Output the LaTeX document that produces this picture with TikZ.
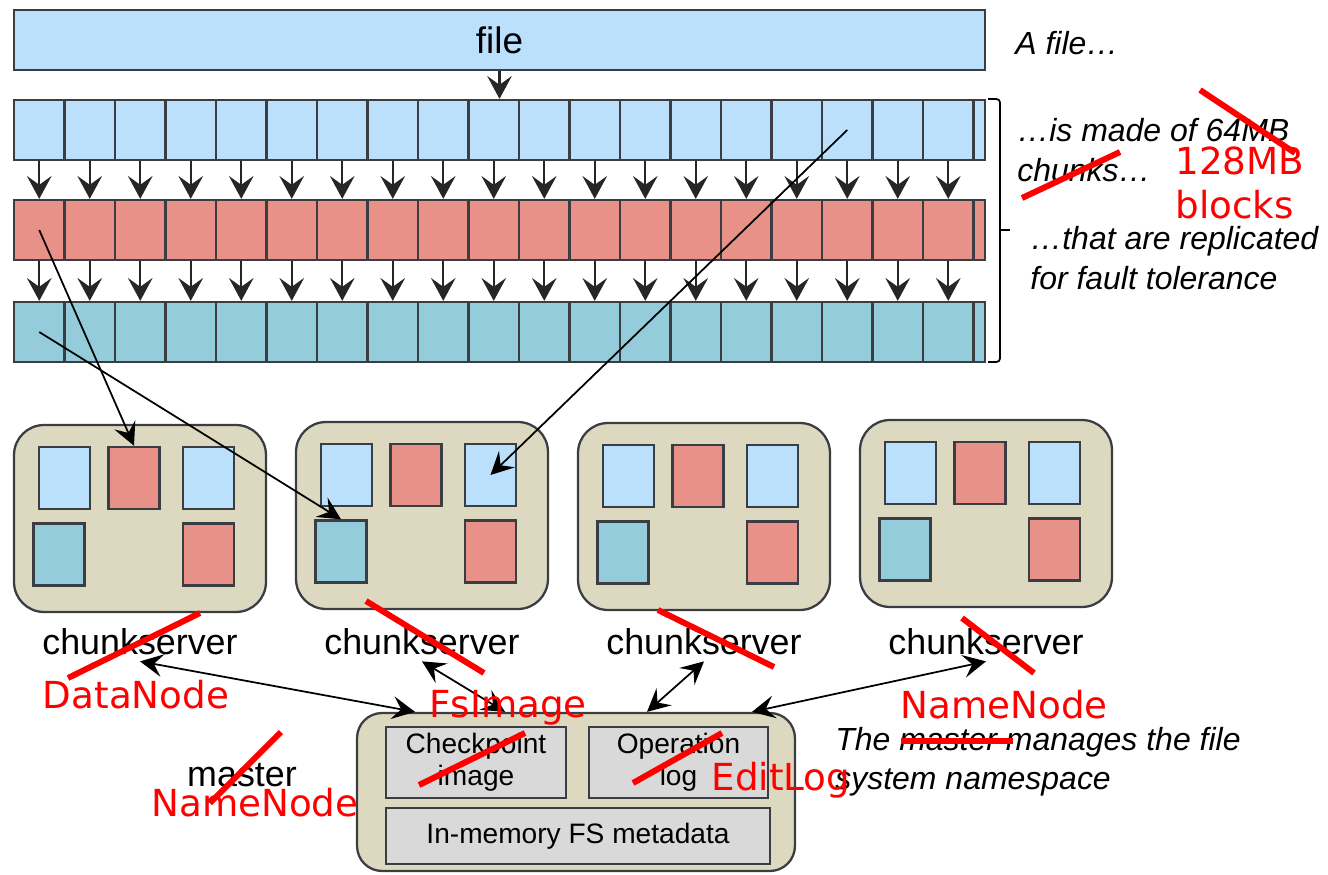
\documentclass[tikz,border=0pt]{standalone}
\usepackage{fontspec}
\setmainfont{Liberation Sans}
\newfontfamily\notefont{DejaVu Sans}
\usetikzlibrary{arrows.meta}
\definecolor{fileblue}{RGB}{187,224,252}
\definecolor{chunkred}{RGB}{232,145,137}
\definecolor{chunkteal}{RGB}{148,204,220}
\definecolor{serverbeige}{RGB}{221,217,193}
\definecolor{metagray}{RGB}{217,217,217}
\definecolor{edgegray}{RGB}{58,62,66}
\tikzstyle{bar}=[draw=edgegray, line width=1.3pt, minimum height=1.2cm, inner sep=0pt]
\tikzstyle{cellblue}=[bar, fill=fileblue, minimum width=1.01cm]
\tikzstyle{cellred}=[bar, fill=chunkred, minimum width=1.01cm]
\tikzstyle{cellteal}=[bar, fill=chunkteal, minimum width=1.01cm]
\tikzstyle{server}=[draw=edgegray, fill=serverbeige, line width=1.3pt, rounded corners=0.6cm, minimum width=5.04cm, minimum height=3.74cm]
\tikzstyle{blk}=[draw=edgegray, line width=1.4pt, minimum width=1.02cm, minimum height=1.24cm, inner sep=0pt]
\tikzstyle{meta}=[draw=edgegray, fill=metagray, line width=1.6pt, align=center, font=\fontsize{16}{18}\selectfont]
\tikzstyle{label}=[font=\fontsize{20.4}{24}\selectfont]
\tikzstyle{note}=[inner sep=0pt, anchor=west, align=left, font=\fontsize{18.2}{22.3}\selectfont\itshape]
\tikzstyle{redtext}=[inner sep=0pt, text=red, align=left, font=\notefont\fontsize{21.2}{25.5}\selectfont]
\tikzstyle{strike}=[draw=red, line width=3.4pt]
\tikzstyle{arrow}=[draw=black!85, line width=1.3pt, -{Stealth[length=13pt,width=14pt,inset=5pt]}]
\tikzstyle{link}=[draw=black, line width=1pt, -{Stealth[length=13pt,width=13pt,inset=5pt]}]
\tikzstyle{dlink}=[link, {Stealth[length=13pt,width=13pt,inset=5pt]}-{Stealth[length=13pt,width=13pt,inset=5pt]}]

\begin{document}
\begin{tikzpicture}[x=0.02cm, y=-0.02cm]
  \useasboundingbox (0,0) rectangle (1328,875);

  % the file and its chunks
  \node[bar, fill=fileblue, minimum width=19.42cm] (file) at (499.5,40) {\fontsize{21}{25}\selectfont file};
  \foreach \i in {0,...,18} {
    \node[cellblue] (a\i) at (39.25+50.5*\i,130) {};
    \node[cellred] (b\i) at (39.25+50.5*\i,230) {};
    \node[cellteal] (c\i) at (39.25+50.5*\i,332) {};
  }
  \node[cellblue, minimum width=0.22cm] (a19) at (979.5,130) {};
  \node[cellred, minimum width=0.22cm] (b19) at (979.5,230) {};
  \node[cellteal, minimum width=0.22cm] (c19) at (979.5,332) {};
  \draw[arrow] (file.south) -- (file.south |- a0.north);
  \foreach \i in {0,...,18} {
    \draw[arrow] (a\i) -- (b\i);
    \draw[arrow] (b\i) -- (c\i);
  }
  \draw[line width=1pt, rounded corners=2pt] (988,99) -- (1000,99) -- (1000,362) -- (988,362);
  \draw[line width=1pt] (1000,230) -- (1010,230);

  % chunkservers
  \foreach \n/\x/\y in {1/14/425, 2/296/422, 3/578/423, 4/860/420} {
    \node[server] (s\n) at (\x+126,\y+93.5) {};
    \node[blk, fill=fileblue] (s\n-1) at (\x+50.5,\y+53) {};
    \node[blk, fill=chunkred] (s\n-2) at (\x+120,\y+53) {};
    \node[blk, fill=fileblue] (s\n-3) at (\x+194.5,\y+53) {};
    \node[blk, fill=chunkteal] (s\n-4) at (\x+45,\y+129.5) {};
    \node[blk, fill=chunkred] (s\n-5) at (\x+194.5,\y+129.5) {};
    \node[label] (cs\n) at (\x+126,642) {chunkserver};
  }
  \draw[link] (b0.center) -- (s1-2.north);
  \draw[link] (c0.center) -- (s2-4.north);
  \draw[link] (a16.center) -- (s2-3.center);

  % master
  \node[server, minimum width=8.76cm, minimum height=3.16cm, rounded corners=0.5cm] (master) at (576,792) {};
  \node[meta, minimum width=3.6cm, minimum height=1.42cm] (ckpt) at (476,762.5) {Checkpoint\\image};
  \node[meta, minimum width=3.58cm, minimum height=1.42cm] (oplog) at (678.5,762.5) {Operation\\log};
  \node[meta, minimum width=7.68cm, minimum height=1.12cm] (fsmeta) at (578,836) {In-memory FS metadata};
  \node[label] (mlabel) at (242,775) {master};
  \draw[dlink] (cs1.south) -- ([xshift=-3.22cm]master.north);
  \draw[dlink] (cs2.south) -- ([xshift=-1.42cm]master.north);
  \draw[dlink] (cs3.south) -- ([xshift=1.42cm]master.north);
  \draw[dlink] (cs4.south) -- ([xshift=3.52cm]master.north);

  % notes
  \node[note] (afile) at (1015,43) {A file…};
  \node[note] (chunks) at (1017,150) {…is made of 64MB\\chunks…};
  \node[note] (repl) at (1030,258) {…that are replicated\\for fault tolerance};
  \node[note] (ns) at (835,762) {The master manages the file\\system namespace};

  % red corrections
  \node[redtext, anchor=west] (blocks) at (1175,183) {128MB\\blocks};
  \draw[strike] (1200,90) -- (1295,153);
  \draw[strike] (1022,198) -- (1120,152);
  \draw[strike] (200,613) -- (68,678);
  \draw[strike] (366,601) -- (484,673);
  \draw[strike] (658,610) -- (774,667);
  \draw[strike] (962,618) -- (1034,673);
  \draw[strike] (281,732) -- (210,803);
  \draw[strike] (419,785) -- (525,733);
  \draw[strike] (633,783) -- (722,733);
  \draw[strike] (901,741) -- (1013,741);
  \node[redtext] (datanode) at (136,695) {DataNode};
  \node[redtext] (fsimage) at (508,708) {FsImage};
  \node[redtext] (nn1) at (255,803) {NameNode};
  \node[redtext] (editlog) at (781,780) {EditLog};
  \node[redtext] (nn2) at (1004,705) {NameNode};
\end{tikzpicture}
\end{document}
